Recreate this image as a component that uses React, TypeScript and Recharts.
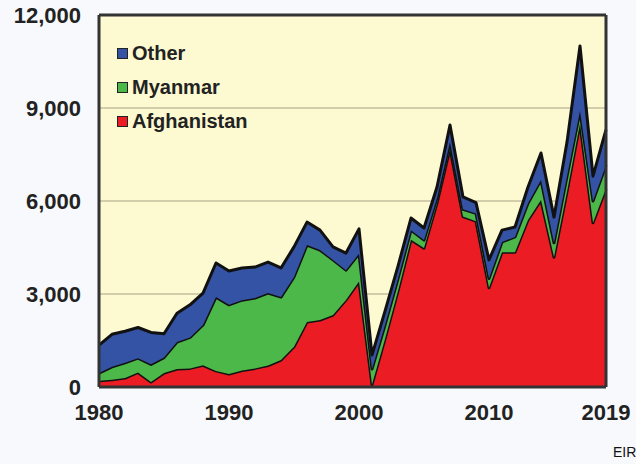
import React from "react";
import {
  AreaChart,
  Area,
  XAxis,
  YAxis,
  CartesianGrid,
  Legend,
  ReferenceLine,
} from "recharts";

// Opium production by origin
const years = [
  1980, 1981, 1982, 1983, 1984, 1985, 1986, 1987, 1988, 1989,
  1990, 1991, 1992, 1993, 1994, 1995, 1996, 1997, 1998, 1999,
  2000, 2001, 2002, 2003, 2004, 2005, 2006, 2007, 2008, 2009,
  2010, 2011, 2012, 2013, 2014, 2015, 2016, 2017, 2018, 2019,
];
const afghanistan = [
  200, 230, 290, 470, 160, 450, 580, 600, 700, 520,
  420, 530, 600, 690, 870, 1300, 2100, 2160, 2320, 2810,
  3400, 80, 1550, 3100, 4750, 4480, 5930, 7700, 5500, 5350,
  3200, 4350, 4350, 5390, 6030, 4190, 6300, 8500, 5300, 6400,
];
const myanmar = [
  250, 420, 490, 460, 570, 500, 870, 1000, 1300, 2380,
  2230, 2270, 2270, 2340, 2030, 2250, 2480, 2260, 1780, 960,
  900, 500, 450, 400, 310, 260, 170, 200, 230, 250,
  300, 330, 490, 540, 650, 460, 500, 400, 700, 750,
];
const other = [
  900, 1050, 1020, 990, 1030, 770, 930, 1050, 1030, 1100,
  1090, 1040, 1000, 1000, 940, 970, 740, 640, 420, 550,
  800, 450, 450, 400, 390, 390, 350, 550, 400, 350,
  600, 380, 320, 520, 870, 830, 1100, 2100, 800, 1150,
];
const yTicks = [0, 3000, 6000, 9000, 12000];
const xTicks = [1980, 1990, 2000, 2010, 2019];

const series = [
  { key: "afghanistan", name: "Afghanistan", color: "#ec1c24" },
  { key: "myanmar", name: "Myanmar", color: "#4db84a" },
  { key: "other", name: "Other", color: "#3553a5" },
];

const data = years.map((year, i) => ({
  year,
  afghanistan: afghanistan[i],
  myanmar: myanmar[i],
  other: other[i],
}));

const FONT = "'Liberation Sans', Arial, sans-serif";

const renderLegend = () => {
  // legend lists the top series first
  const items = [...series].reverse();
  return (
    <div style={{ fontFamily: FONT, fontWeight: "bold", fontSize: 20, color: "#222" }}>
      {items.map((s) => (
        <div key={s.key} style={{ display: "flex", alignItems: "center", height: 34 }}>
          <span
            style={{
              display: "inline-block",
              width: 9,
              height: 9,
              background: s.color,
              border: "1.5px solid #222",
              marginRight: 4,
            }}
          />
          <span>{s.name}</span>
        </div>
      ))}
    </div>
  );
};

const App: React.FC = () => {
  return (
    <div
      style={{
        position: "absolute",
        left: 0,
        top: 0,
        width: 636,
        height: 464,
        background: "#f7f9fc",
        fontFamily: FONT,
      }}
    >
      <AreaChart
        width={636}
        height={464}
        data={data}
        margin={{ top: 15, right: 30, left: 0, bottom: 0 }}
      >
        <CartesianGrid vertical={false} stroke="#a8a083" fill="#fdf9d0" />
        <XAxis
          dataKey="year"
          type="number"
          domain={[1980, 2019]}
          ticks={xTicks}
          height={77}
          tickLine={false}
          tickSize={0}
          tickMargin={17}
          axisLine={{ stroke: "#333", strokeWidth: 3 }}
          tick={{ fill: "#222", fontSize: 22, fontWeight: "bold", fontFamily: FONT }}
        />
        <YAxis
          domain={[0, 12000]}
          ticks={yTicks}
          width={99}
          tickLine={false}
          tickSize={0}
          tickMargin={18}
          axisLine={{ stroke: "#333", strokeWidth: 3 }}
          tickFormatter={(v: number) => v.toLocaleString("en-US")}
          tick={{ fill: "#222", fontSize: 22, fontWeight: "bold", fontFamily: FONT }}
        />
        <Legend
          layout="vertical"
          align="center"
          verticalAlign="middle"
          content={renderLegend}
          wrapperStyle={{ left: 117, top: 36, width: "auto" }}
        />
        {series.map((s) => (
          <Area
            key={s.key}
            type="linear"
            dataKey={s.key}
            name={s.name}
            stackId="1"
            fill={s.color}
            fillOpacity={1}
            stroke="#111"
            strokeWidth={3}
            strokeLinejoin="round"
            isAnimationActive={false}
          />
        ))}
        <ReferenceLine y={12000} stroke="#333" strokeWidth={3} />
        <ReferenceLine x={2019} stroke="#333" strokeWidth={3} />
      </AreaChart>
      <div
        style={{
          position: "absolute",
          left: 613,
          top: 444,
          fontSize: 14,
          color: "#111",
          fontFamily: FONT,
        }}
      >
        EIR
      </div>
    </div>
  );
};

export default App;
